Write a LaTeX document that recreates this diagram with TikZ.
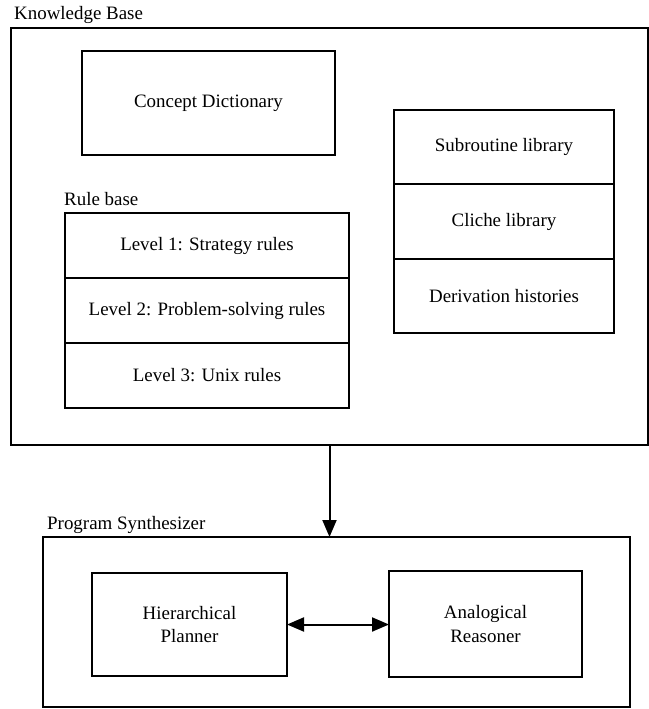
\documentclass[tikz,border=0pt]{standalone}
\usepackage{fontspec}
\setmainfont{Liberation Serif}
\usetikzlibrary{arrows.meta}
\usetikzlibrary{positioning}
\newcommand\txtfont{\fontsize{19}{24}\selectfont}
\tikzstyle{frame}=[draw,line width=2bp,inner sep=0pt,outer sep=0pt]
\tikzstyle{cell} =[frame,align=center,font=\txtfont]
\tikzstyle{lbl}  =[inner sep=0pt,anchor=base west,font=\txtfont]
\tikzstyle{flowhead}=[>/.tip={Triangle[length=17bp,width=14bp]}]
\tikzstyle{flow} =[line width=2bp,flowhead,->]
\tikzstyle{flows}=[line width=2bp,flowhead,<->]

\begin{document}
\begin{tikzpicture}[x=1bp,y=-1bp]
				\useasboundingbox (0,0) rectangle (649,709);
				\node[frame,minimum width=637bp,minimum height=417bp] (kb) at (329.5,236.5) {};
				\node[lbl] (kblabel) at (14,20) {Knowledge Base};
				\node[cell,minimum width=253bp,minimum height=104bp] (dict) at (208.5,103) {Concept Dictionary};
				\node[lbl] (rulelabel) at (64,205) {Rule base};
				\node[cell,minimum width=284bp,minimum height=65bp] (rule1) at (207,245.5) {Level 1: Strategy rules};
				\node[cell,minimum width=284bp,minimum height=65bp,below=0pt of rule1] (rule2) {Level 2: Problem-solving rules};
				\node[cell,minimum width=284bp,minimum height=65bp,below=0pt of rule2] (rule3) {Level 3: Unix rules};
				\node[cell,minimum width=220bp,minimum height=74.3bp] (lib1) at (504,147.2) {Subroutine library};
				\node[cell,minimum width=220bp,minimum height=74.3bp,below=0pt of lib1] (lib2) {Cliche library};
				\node[cell,minimum width=220bp,minimum height=74.3bp,below=0pt of lib2] (lib3) {Derivation histories};
				\node[frame,minimum width=587bp,minimum height=170bp] (ps) at (336.5,622) {};
				\node[lbl] (pslabel) at (47,529) {Program Synthesizer};
				\node[cell,minimum width=195bp,minimum height=103bp] (plan) at (189.5,624.5) {Hierarchical\\Planner};
				\node[cell,minimum width=193bp,minimum height=106bp] (reason) at (485.5,624) {Analogical\\Reasoner};
				\draw[flow] (kb.south) -- (kb.south |- ps.north);
				\draw[flows] (plan.east) -- (plan.east -| reason.west);
\end{tikzpicture}
\end{document}
